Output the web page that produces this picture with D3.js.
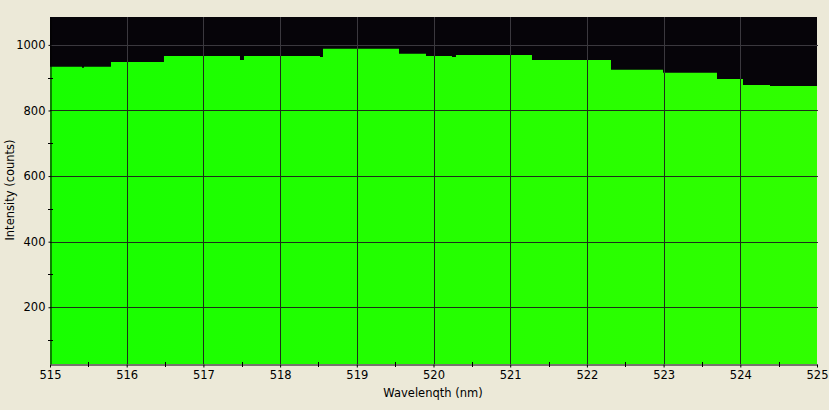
<!DOCTYPE html>
<html>
<head>
<meta charset="utf-8">
<script src="https://cdn.jsdelivr.net/npm/d3@7"></script>
<style>
  html, body { margin: 0; padding: 0; background: #ece9d8; }
  svg { display: block; }
  text { font-family: "DejaVu Sans", sans-serif; font-size: 11.5px; fill: #000; }
</style>
</head>
<body>
<svg id="chart" width="829" height="410"></svg>
<script>
// Step spectrum: wavelength where each step starts (nm) and its intensity (counts)
const wavelengths = [515.000, 515.417, 515.443, 515.795, 516.486, 517.477, 517.529, 518.520, 518.559,
                     519.550, 519.902, 520.241, 520.293, 521.284, 522.314, 522.992, 523.696, 524.035, 524.387, 525.000];
const intensities = [933, 930, 933, 948, 966, 954, 966, 963, 988,
                     973, 966, 963, 969, 954, 924, 915, 896, 878, 875, 875];
const xTicks = [515, 516, 517, 518, 519, 520, 521, 522, 523, 524, 525];
const xMinorTicks = [515.5, 516.5, 517.5, 518.5, 519.5, 520.5, 521.5, 522.5, 523.5, 524.5];
const yTicks = [200, 400, 600, 800, 1000];
const yMinorTicks = [100, 300, 500, 700, 900];
const xTitle = "Wavelenqth (nm)";
const yTitle = "Intensity (counts)";

const data = wavelengths.map((w, i) => ({ w, v: intensities[i] }));

const svg = d3.select("#chart");
const L = 50, R = 817, T = 17, B = 364;

const x = d3.scaleLinear().domain([515, 525]).range([L, R]);
const y = d3.scaleLinear().domain([27, 1085]).range([B, T]);

// plot background
svg.append("rect").attr("x", L).attr("y", T).attr("width", R - L).attr("height", B - T).attr("fill", "#060409");

const defs = svg.append("defs");
const grad = defs.append("linearGradient").attr("id", "greenGrad")
  .attr("gradientUnits", "userSpaceOnUse").attr("x1", L).attr("x2", R).attr("y1", 0).attr("y2", 0);
grad.append("stop").attr("offset", "0").attr("stop-color", "#18ff00");
grad.append("stop").attr("offset", "1").attr("stop-color", "#30ff00");

const area = d3.area().curve(d3.curveStepAfter)
  .x(d => x(d.w)).y0(B).y1(d => y(d.v));

defs.append("clipPath").attr("id", "areaClip").append("path").attr("d", area(data));

function drawGrid(g, color) {
  g.selectAll("line.v").data(xTicks.slice(1, -1)).join("line")
    .attr("x1", d => Math.round(x(d)) + 0.5).attr("x2", d => Math.round(x(d)) + 0.5)
    .attr("y1", T).attr("y2", B).attr("stroke", color).attr("stroke-width", 1);
  g.selectAll("line.h").data(yTicks).join("line")
    .attr("y1", d => Math.round(y(d)) + 0.5).attr("y2", d => Math.round(y(d)) + 0.5)
    .attr("x1", L).attr("x2", R + 1).attr("stroke", color).attr("stroke-width", 1);
}

// grid on black
drawGrid(svg.append("g"), "#3a383e");
// spectrum area
svg.append("path").datum(data).attr("d", area).attr("fill", "url(#greenGrad)");
// grid over green
drawGrid(svg.append("g").attr("clip-path", "url(#areaClip)"), "#1d2f1a");

// axes
const yAxis = d3.axisLeft(y).tickValues(yTicks).tickSize(2).tickPadding(3).tickSizeOuter(0).tickFormat(d3.format("d"));
const gy = svg.append("g").attr("transform", `translate(${L + 0.5},0)`).call(yAxis);
gy.attr("font-size", null).attr("font-family", null);
gy.select(".domain").attr("stroke", "#000");
gy.selectAll(".tick line").attr("stroke", "#000");
svg.append("g").selectAll("line").data(yMinorTicks).join("line")
  .attr("x1", L - 2).attr("x2", L + 3)
  .attr("y1", d => Math.round(y(d)) + 0.5).attr("y2", d => Math.round(y(d)) + 0.5)
  .attr("stroke", "#000");

const xAxis = d3.axisBottom(x).tickValues(xTicks).tickSize(3).tickPadding(3).tickSizeOuter(0).tickFormat(d3.format("d"));
const gx = svg.append("g").attr("transform", `translate(0,${B + 0.5})`).call(xAxis);
gx.attr("font-size", null).attr("font-family", null);
gx.select(".domain").attr("stroke", "#000");
gx.selectAll(".tick line").attr("stroke", "#000");
svg.append("g").selectAll("line").data(xMinorTicks).join("line")
  .attr("x1", d => Math.round(x(d)) + 0.5).attr("x2", d => Math.round(x(d)) + 0.5)
  .attr("y1", B - 2).attr("y2", B + 3)
  .attr("stroke", "#000");

// titles
svg.append("text").attr("x", 433).attr("y", 397).attr("text-anchor", "middle").text(xTitle);
svg.append("text").attr("transform", "translate(14,190) rotate(-90)").attr("text-anchor", "middle").text(yTitle);
</script>
</body>
</html>
